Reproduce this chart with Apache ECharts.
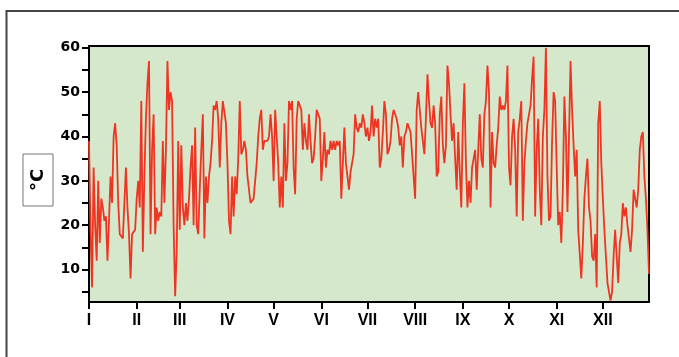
<!DOCTYPE html>
<html>
<head>
<meta charset="utf-8">
<script src="https://cdn.jsdelivr.net/npm/echarts@6/dist/echarts.min.js"></script>
<style>
  html, body { margin: 0; padding: 0; background: #fff; }
  #chart { width: 679px; height: 357px; }
</style>
</head>
<body>
<div id="chart"></div>
<script>
// daily temperature, day 0..364
const temps = [
  39,19,6,33,20,12,30,16,26,24, 21,22,12,21,31,25,40,43,38,25,
  18,18,17,17,33,24,18,8,18,18, 19,26,30,24,48,14,31,44,52,57,
  18,37,45,18,24,21,23,22,39,25, 37,57,46,50,48,20,4,14,39,19,
  38,
  24,20,25,21,26,33,38,20,42,20, 18,28,37,45,17,31,25,31,34,39,
  47,46,48,44,33,43,48,48,43,34, 21,18,31,22,31,27,35,48,36,37,
  39,37,31,28,25,25,26,30,34,40, 44,46,37,39,39,39,40,45,40,30,
  46,
  46,34,24,31,24,43,30,34,48,46, 48,33,27,44,48,48,46,37,43,39,
  37,45,39,34,35,40,46,46,44,30, 35,41,33,37,36,39,37,39,37,39,
  38,39,26,34,42,34,31,28,32,34, 36,45,42,41,43,42,45,43,40,42,
  39,
  41,47,40,44,42,44,33,35,41,48, 45,36,37,39,44,46,45,44,42,38,
  40,33,40,41,43,42,41,36,31,26, 46,50,46,42,42,36,44,54,48,43,
  42,47,43,31,32,45,49,38,34,38, 56,52,45,39,43,35,28,41,32,24,
  43,52,
  34,24,30,25,33,33,37,28,37,45, 35,33,45,48,56,50,24,41,34,33,
  38,42,49,46,47,46,48,56,33,29, 40,44,37,22,41,44,48,21,34,39,
  43,43,47,53,58,22,37,44,28,20, 40,46,60,31,21,22,39,50,48,33,
  20,
  23,16,28,49,40,23,40,57,46,38, 31,37,19,19,8,16,26,31,35,24,
  21,13,12,18,6,43,48,34,26,19, 13,7,5,3,5,13,19,13,7,16,
  18,25,22,24,20,17,14,19,28,26, 24,28,37,40,41,31,26,19,9
];
const monthStarts = [0, 31, 59, 90, 120, 151, 181, 212, 243, 273, 304, 334];
const monthLabels = ['I', 'II', 'III', 'IV', 'V', 'VI', 'VII', 'VIII', 'IX', 'X', 'XI', 'XII'];
const yLabels = [10, 20, 30, 40, 50, 60];
const yTicks = [5, 10, 15, 20, 25, 30, 35, 40, 45, 50, 55, 60];

const chart = echarts.init(document.getElementById('chart'));
const option = {
  animation: false,
  grid: {
    left: 89, top: 46, right: 30, bottom: 55,
    show: true,
    backgroundColor: '#d5e8cb',
    borderColor: '#000',
    borderWidth: 2
  },
  xAxis: {
    type: 'value',
    min: 0,
    max: 364,
    splitLine: { show: false },
    axisLine: { lineStyle: { color: '#000', width: 2 } },
    axisTick: { customValues: monthStarts, length: 7, lineStyle: { color: '#000', width: 2 } },
    axisLabel: {
      customValues: monthStarts,
      margin: 11,
      color: '#000',
      fontFamily: 'Liberation Sans',
      fontWeight: 'bold',
      fontSize: 16,
      formatter: v => monthLabels[monthStarts.indexOf(v)] || ''
    }
  },
  yAxis: {
    type: 'value',
    min: 2.7,
    max: 60.4,
    splitLine: { show: false },
    axisLine: { show: true, lineStyle: { color: '#000', width: 2 } },
    axisTick: { customValues: yTicks, length: 7, lineStyle: { color: '#000', width: 2 } },
    axisLabel: {
      customValues: yLabels,
      margin: 9,
      color: '#000',
      fontFamily: 'DejaVu Sans',
      fontWeight: 'bold',
      fontSize: 14
    }
  },
  series: [{
    type: 'line',
    data: temps.map((v, i) => [i, v]),
    showSymbol: false,
    lineStyle: { color: '#ee3524', width: 1.8 }
  }],
  graphic: [
    {
      type: 'rect',
      shape: { x: 6.5, y: 11, width: 720, height: 400 },
      style: { fill: 'none', stroke: '#444', lineWidth: 2 },
      silent: true
    },
    {
      type: 'rect',
      shape: { x: 23, y: 154, width: 30, height: 52 },
      style: { fill: '#fff', stroke: '#777', lineWidth: 1 }
    },
    {
      type: 'text',
      x: 38, y: 180,
      rotation: Math.PI / 2,
      style: {
        text: '°C',
        fontFamily: 'DejaVu Sans',
        fontWeight: 'bold',
        fontSize: 18,
        fill: '#000',
        align: 'center',
        verticalAlign: 'middle'
      }
    }
  ]
};
chart.setOption(option);
</script>
</body>
</html>
